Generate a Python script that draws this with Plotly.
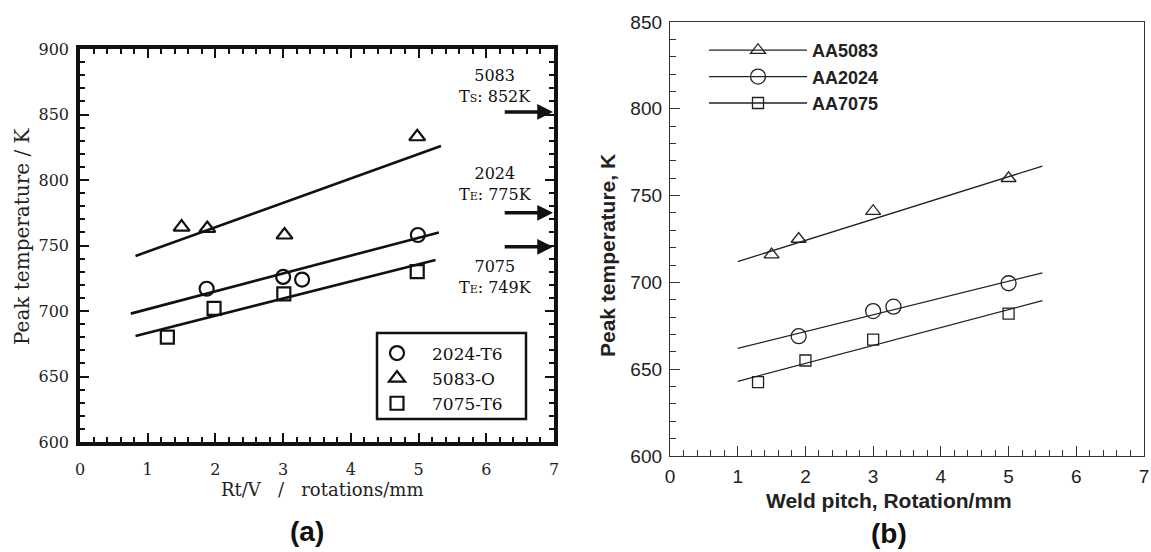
import plotly.graph_objects as go

W, H = 1151, 552

# ---------------- Panel (a) data ----------------
a_x_2024 = [1.87, 3.00, 3.28, 4.99]
a_y_2024 = [717, 726, 724, 758]
a_x_5083 = [1.50, 1.88, 3.02, 4.98]
a_y_5083 = [764, 763, 758, 833]
a_x_7075 = [1.29, 1.98, 3.01, 4.98]
a_y_7075 = [680, 702, 713, 730]

a_fit_x_5083 = [0.82, 5.33]
a_fit_y_5083 = [742, 826]
a_fit_x_2024 = [0.75, 5.30]
a_fit_y_2024 = [698, 760]
a_fit_x_7075 = [0.82, 5.25]
a_fit_y_7075 = [681, 739]

melt_alloys = ["5083", "2024", "7075"]
melt_kinds = ["S", "E", "E"]
melt_temps = [852, 775, 749]
melt_arrow_start = 6.25

a_x_ticks = [0, 1, 2, 3, 4, 5, 6, 7]
a_y_ticks = [600, 650, 700, 750, 800, 850, 900]

# ---------------- Panel (b) data ----------------
b_x_5083 = [1.5, 1.9, 3.0, 5.0]
b_y_5083 = [716, 725, 741, 760]
b_x_2024 = [1.9, 3.0, 3.3, 5.0]
b_y_2024 = [669, 683.5, 686, 699.5]
b_x_7075 = [1.3, 2.0, 3.0, 5.0]
b_y_7075 = [642.5, 655, 667, 682]

b_fit_x = [1.0, 5.5]
b_fit_y_5083 = [712, 767]
b_fit_y_2024 = [662, 705.5]
b_fit_y_7075 = [643, 689.5]

b_x_ticks = [0, 1, 2, 3, 4, 5, 6, 7]
b_y_ticks = [600, 650, 700, 750, 800, 850]

# ---------------- styling ----------------
SERIF = "DejaVu Serif"
SANS = "Liberation Sans, Arial"
INK_A = "#111111"
INK_B = "#222222"


def px_x(p):
    return p / W


def px_y(p):
    return 1 - p / H


fig = go.Figure()

# Panel (a) fit lines
for fx, fy in [(a_fit_x_5083, a_fit_y_5083), (a_fit_x_2024, a_fit_y_2024), (a_fit_x_7075, a_fit_y_7075)]:
    fig.add_trace(go.Scatter(x=fx, y=fy, mode="lines", line=dict(color=INK_A, width=2.6),
                             showlegend=False, hoverinfo="skip", xaxis="x", yaxis="y"))

# Panel (a) markers (legend order: 2024, 5083, 7075)
a_series = [
    ("2024-T6", a_x_2024, a_y_2024, "circle-open", 14),
    ("5083-O", a_x_5083, a_y_5083, "triangle-up-open", 14),
    ("7075-T6", a_x_7075, a_y_7075, "square-open", 13),
]
for name, xs, ys, sym, sz in a_series:
    fig.add_trace(go.Scatter(x=xs, y=ys, mode="markers", name=name,
                             marker=dict(symbol=sym, size=sz, color=INK_A, line=dict(width=2.2, color=INK_A)),
                             xaxis="x", yaxis="y", legend="legend"))

# Panel (b) fit lines
for fy in [b_fit_y_5083, b_fit_y_2024, b_fit_y_7075]:
    fig.add_trace(go.Scatter(x=b_fit_x, y=fy, mode="lines", line=dict(color=INK_B, width=1.3),
                             showlegend=False, hoverinfo="skip", xaxis="x2", yaxis="y2"))

b_series = [
    ("AA5083", b_x_5083, b_y_5083, "triangle-up-open", 13),
    ("AA2024", b_x_2024, b_y_2024, "circle-open", 15),
    ("AA7075", b_x_7075, b_y_7075, "square-open", 11),
]
for name, xs, ys, sym, sz in b_series:
    mk = dict(symbol=sym, size=sz, color=INK_B, line=dict(width=1.3, color=INK_B))
    fig.add_trace(go.Scatter(x=xs, y=ys, mode="markers", marker=mk, showlegend=False,
                             xaxis="x2", yaxis="y2"))
    # legend entry (line + marker)
    fig.add_trace(go.Scatter(x=[None], y=[None], mode="lines+markers", name=name, marker=mk,
                             line=dict(color=INK_B, width=1.3), xaxis="x2", yaxis="y2",
                             legend="legend2"))

# ---------------- axes ----------------
dom_ax = [px_x(80), px_x(554)]
dom_ay = [px_y(442), px_y(49)]
dom_bx = [px_x(670), px_x(1144)]
dom_by = [px_y(456), px_y(22)]

axis_a_common = dict(showline=True, linewidth=3.6, linecolor=INK_A, mirror="allticks",
                     ticks="inside", tickwidth=2, tickcolor=INK_A, ticklen=9,
                     showgrid=False, zeroline=False, automargin=False,
                     tickfont=dict(family=SERIF, size=16, color="#222222"))

fig.update_layout(
    xaxis=dict(domain=dom_ax, range=[0, 7], tickvals=a_x_ticks, anchor="y",
               minor=dict(dtick=0.2, ticks="inside", ticklen=5, tickwidth=2, tickcolor=INK_A),
               ticklabelstandoff=10, **axis_a_common),
    yaxis=dict(domain=dom_ay, range=[600, 900], tickvals=a_y_ticks, anchor="x",
               minor=dict(dtick=10, ticks="inside", ticklen=5, tickwidth=2, tickcolor=INK_A),
               ticklabelstandoff=4, **axis_a_common),
    xaxis2=dict(domain=dom_bx, range=[0, 7], tickvals=b_x_ticks, anchor="y2",
                showline=True, linewidth=1.3, linecolor="#333333", mirror=True,
                ticks="inside", ticklen=10, tickwidth=1.3, tickcolor="#333333",
                minor=dict(dtick=0.2, ticks="inside", ticklen=6, tickwidth=1.3, tickcolor="#333333"),
                showgrid=False, zeroline=False, ticklabelstandoff=3, automargin=False,
                tickfont=dict(family=SANS, size=19, color="#222222")),
    yaxis2=dict(domain=dom_by, range=[600, 850], tickvals=b_y_ticks, anchor="x2",
                showline=True, linewidth=1.3, linecolor="#333333", mirror=True,
                ticks="inside", ticklen=10, tickwidth=1.3, tickcolor="#333333",
                minor=dict(dtick=10, ticks="inside", ticklen=6, tickwidth=1.3, tickcolor="#333333"),
                showgrid=False, zeroline=False, ticklabelstandoff=3, automargin=False,
                tickfont=dict(family=SANS, size=19, color="#222222")),
)

# ---------------- legends ----------------
fig.update_layout(
    legend=dict(x=px_x(362), y=px_y(335.5), xanchor="left", yanchor="top",
                bgcolor="rgba(0,0,0,0)", borderwidth=0, itemwidth=60, tracegroupgap=0,
                font=dict(family=SERIF, size=17, color=INK_A)),
    legend2=dict(x=px_x(704), y=px_y(32), xanchor="left", yanchor="top",
                 bgcolor="rgba(0,0,0,0)", borderwidth=0, itemwidth=98, tracegroupgap=0,
                 font=dict(family=SANS, size=18, color=INK_B, weight="bold")),
)

shapes = [
    # legend (a) frame
    dict(type="rect", xref="paper", yref="paper", x0=px_x(377), x1=px_x(526),
         y0=px_y(419), y1=px_y(333), line=dict(color=INK_A, width=2.5)),
]

annotations = []
# melting arrows and labels on panel (a)
for alloy, kind, temp in zip(melt_alloys, melt_kinds, melt_temps):
    annotations.append(dict(x=7, y=temp, ax=melt_arrow_start, ay=temp, xref="x", yref="y",
                            axref="x", ayref="y", text="", showarrow=True, arrowhead=2,
                            arrowsize=0.9, arrowwidth=3.5, arrowcolor=INK_A, standoff=1))
    label = f"{alloy}<br>T<span style='font-size:11px'>{kind}</span>: {temp}K"
    below = alloy == "7075"
    annotations.append(dict(x=6.13, y=temp, xref="x", yref="y", text=label, showarrow=False,
                            xanchor="center", yanchor="top" if below else "bottom",
                            yshift=-8 if below else 4 if alloy == "5083" else 7,
                            align="center",
                            font=dict(family=SERIF, size=16, color=INK_A)))

# axis titles and panel labels (explicitly centred)
centre = dict(xref="paper", yref="paper", xanchor="center", yanchor="middle", showarrow=False)
annotations += [
    dict(x=px_x(22), y=px_y(236), text="Peak temperature / K", textangle=-90,
         font=dict(family=SERIF, size=20, color="#222222"), **centre),
    dict(x=px_x(322), y=px_y(490), text="Rt/V &nbsp; / &nbsp; rotations/mm",
         font=dict(family=SERIF, size=18, color="#222222"), **centre),
    dict(x=px_x(607), y=px_y(256), text="Peak temperature, K", textangle=-90,
         font=dict(family=SANS, size=21, color="#222222", weight="bold"), **centre),
    dict(x=px_x(889), y=px_y(500), text="Weld pitch, Rotation/mm",
         font=dict(family=SANS, size=21, color="#222222", weight="bold"), **centre),
    dict(x=px_x(307), y=px_y(531), text="(a)",
         font=dict(family=SANS, size=28, color="#111111", weight="bold"), **centre),
    dict(x=px_x(889), y=px_y(533), text="(b)",
         font=dict(family=SANS, size=28, color="#111111", weight="bold"), **centre),
]

fig.update_layout(
    width=W, height=H, margin=dict(l=0, r=0, t=0, b=0),
    paper_bgcolor="white", plot_bgcolor="white",
    shapes=shapes, annotations=annotations,
)

fig.write_html("out.html", config={"displayModeBar": False},
               post_script="document.body.style.margin='0px';document.body.style.overflow='hidden';")
